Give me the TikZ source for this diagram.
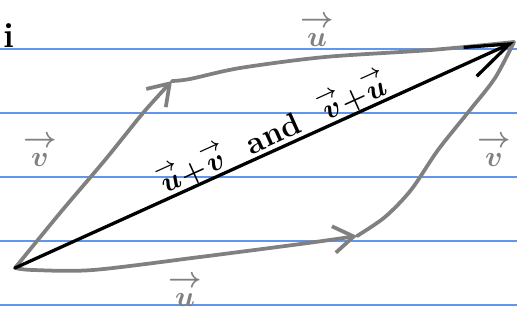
\documentclass[tikz,border=0pt]{standalone}
\usepackage[svgnames]{xcolor}
\usepackage{amsmath}
\usetikzlibrary{arrows.meta, positioning, calc}
\colorlet{RuleLine}{CornflowerBlue}
\colorlet{PenGray}{Gray}
\colorlet{PenInk}{black}
\newcommand{\hvec}[1]{\overset{\rightarrow}{#1}}

\begin{document}
\begin{tikzpicture}[
    x=0.03cm, y=-0.03cm,
    rule/.style={RuleLine, line width=0.9pt},
    pen/.style={line width=3.2pt, line cap=round, line join=round},
    grayhead/.style={-{Straight Barb[length=0.6cm, width=0.8cm]}},
    inkhead/.style={-{Straight Barb[length=1.3cm, width=0.95cm]}},
    vlabel/.style={font=\fontsize{36}{40}\selectfont\boldmath, text=PenGray,
        inner sep=0pt},
    sumlabel/.style={font=\fontsize{27}{30}\selectfont\boldmath\bfseries,
        text=PenInk, inner sep=1pt}
]
\useasboundingbox (0,0) rectangle (517,321);

% ===================================================================
% RULED PAPER
% ===================================================================
\foreach \ry in {49,113,177,241,305}
    \draw[rule] (0,\ry) -- (517,\ry);

% ===================================================================
% CORNERS
% ===================================================================
\coordinate (O) at (15,268);   % tail of both sums
\coordinate (A) at (172,81);   % head of left v
\coordinate (B) at (514,42);   % head of the diagonal
\coordinate (C) at (357,236);  % head of bottom u

% ===================================================================
% SIDES
% ===================================================================

% left v
\draw[pen, PenGray, grayhead] plot[smooth, tension=0.5]
    coordinates {(O) (60,213) (105,160) (143,113) (A)};
% top u
\draw[pen, PenGray] plot[smooth, tension=0.5]
    coordinates {(A) (190,79) (240,68) (325,57) (431,50) (B)};
% bottom u
\draw[pen, PenGray, grayhead] plot[smooth, tension=0.5]
    coordinates {(O) (33,270) (93,270) (200,257) (308,243) (C)};
% right v
\draw[pen, PenGray] plot[smooth, tension=0.5]
    coordinates {(C) (385,217) (411,190) (438,150) (470,110) (495,78) (B)};

% diagonal
\draw[pen, line width=2.8pt, PenInk, inkhead] (O) -- (B)
    node[pos=0.53, sloped, above=-1pt, sumlabel] (sum)
    {$\hvec{u}{+}\hvec{v}$\ \ and\ \ $\hvec{v}{+}\hvec{u}$};

% ===================================================================
% LABELS
% ===================================================================
\node[vlabel] (utop) at (317,30) {$\hvec{u}$};
\node[vlabel] (vleft) at (40,150) {$\hvec{v}$};
\node[vlabel] (vright) at (494,150) {$\hvec{v}$};
\node[vlabel] (ubot) at (185,290) {$\hvec{u}$};

\node[font=\fontsize{30}{34}\selectfont\bfseries, inner sep=0pt] (mark)
    at (9,36) {i};

\end{tikzpicture}
\end{document}
